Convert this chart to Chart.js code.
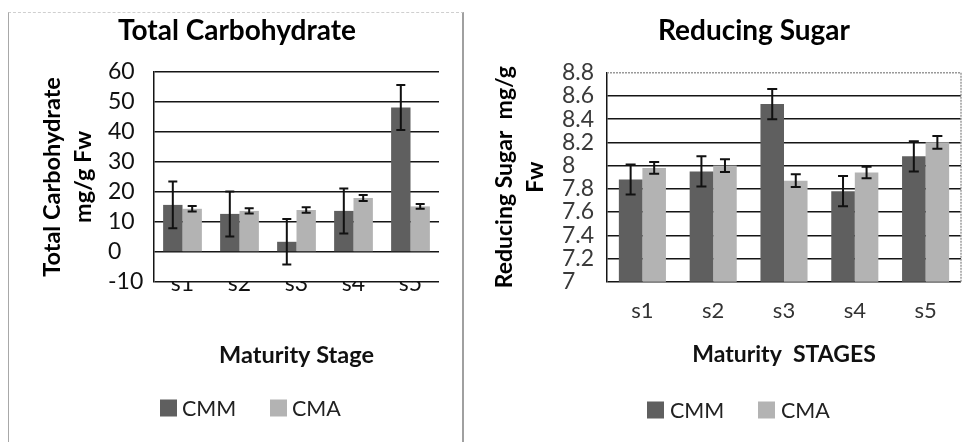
<!DOCTYPE html>
<html><head><meta charset="utf-8">
<script src="https://cdn.jsdelivr.net/npm/chart.js@4/dist/chart.umd.min.js"></script>
<style>
html,body{margin:0;padding:0;background:#fff;width:970px;height:442px;overflow:hidden}
#panelL{position:absolute;left:8px;top:12px;width:453px;height:440px;border-left:1px solid #a8a8a8;border-top:1px dashed #cfcfcf;border-right:2px solid #a0a0a0;}
#c1{position:absolute;left:0;top:0}
#c2{position:absolute;left:480px;top:0}
</style></head><body>
<div id="panelL"></div>
<canvas id="c1" width="480" height="442"></canvas>
<canvas id="c2" width="490" height="442"></canvas>
<script>
// ---- data ----
const stages = ['s1', 's2', 's3', 's4', 's5'];
const seriesNames = ['CMM', 'CMA'];

const tcCMM    = [15.7, 12.7, 3.4, 13.7, 48.2];
const tcCMMErr = [7.8, 7.5, 7.6, 7.5, 7.5];
const tcCMA    = [14.4, 13.7, 14.0, 18.0, 15.2];
const tcCMAErr = [0.9, 0.9, 0.9, 1.0, 0.8];
const tcTicks      = [-10, 0, 10, 20, 30, 40, 50, 60];
const tcTickLabels = ['-10', '0', '10', '20', '30', '40', '50', '60'];

const rsCMM    = [7.88, 7.95, 8.53, 7.78, 8.08];
const rsCMMErr = [0.13, 0.13, 0.13, 0.13, 0.13];
const rsCMA    = [7.98, 8.00, 7.87, 7.94, 8.20];
const rsCMAErr = [0.05, 0.055, 0.055, 0.05, 0.055];
const rsTicks      = [7, 7.2, 7.4, 7.6, 7.8, 8, 8.2, 8.4, 8.6, 8.8];
const rsTickLabels = ['7', '7.2', '7.4', '7.6', '7.8', '8', '8.2', '8.4', '8.6', '8.8'];

const colCMM = '#5f5f5f';
const colCMA = '#b3b3b3';
const FONT = 'Lato';

// ---- plugins ----
const errorBars = {
  id: 'errorBars',
  afterDatasetsDraw(chart, args, opts) {
    const ctx = chart.ctx, ys = chart.scales.y;
    ctx.save();
    ctx.strokeStyle = opts.color || '#111';
    ctx.lineWidth = opts.lineWidth || 2;
    chart.data.datasets.forEach((ds, i) => {
      const meta = chart.getDatasetMeta(i);
      meta.data.forEach((el, j) => {
        const v = ds.data[j], e = ds.errors[j];
        const y1 = ys.getPixelForValue(v + e), y2 = ys.getPixelForValue(v - e);
        const x = el.x, w = opts.cap || 5;
        ctx.beginPath();
        ctx.moveTo(x, y1); ctx.lineTo(x, y2);
        ctx.moveTo(x - w, y1); ctx.lineTo(x + w, y1);
        ctx.moveTo(x - w, y2); ctx.lineTo(x + w, y2);
        ctx.stroke();
      });
    });
    ctx.restore();
  }
};

const boxLegend = {
  id: 'boxLegend',
  afterDraw(chart, args, opts) {
    const ctx = chart.ctx;
    ctx.save();
    ctx.font = opts.size + 'px ' + FONT;
    ctx.textBaseline = 'middle';
    ctx.textAlign = 'left';
    chart.data.datasets.forEach((ds, i) => {
      const x = opts.x[i];
      ctx.fillStyle = ds.backgroundColor;
      ctx.fillRect(x, opts.y - opts.box / 2, opts.box, opts.box);
      ctx.fillStyle = opts.color;
      ctx.fillText(ds.label, x + opts.box + opts.gap, opts.y + 1);
    });
    ctx.restore();
  }
};

const plotFrame = {
  id: 'plotFrame',
  beforeDatasetsDraw(chart, args, opts) {
    if (!opts.show) return;
    const {left, right, top, bottom} = chart.chartArea;
    const ctx = chart.ctx;
    ctx.save();
    ctx.strokeStyle = '#9a9a9a';
    ctx.lineWidth = 1.5;
    ctx.setLineDash([2, 1]);
    ctx.beginPath();
    ctx.moveTo(left, top); ctx.lineTo(right, top); ctx.lineTo(right, bottom);
    ctx.stroke();
    ctx.restore();
  }
};

function makeChart(id, cfg) {
  return new Chart(document.getElementById(id), {
    type: 'bar',
    data: {
      labels: stages,
      datasets: [
        {label: seriesNames[0], data: cfg.a, errors: cfg.aErr, backgroundColor: colCMM,
         categoryPercentage: cfg.catPct, barPercentage: 1},
        {label: seriesNames[1], data: cfg.b, errors: cfg.bErr, backgroundColor: colCMA,
         categoryPercentage: cfg.catPct, barPercentage: 1}
      ]
    },
    options: {
      responsive: false,
      animation: false,
      layout: {padding: cfg.padding},
      plugins: {
        legend: {display: false},
        tooltip: {enabled: false},
        title: {
          display: true, text: cfg.title, color: '#000',
          font: {family: FONT, weight: 'bold', size: 28, lineHeight: 1.2},
          padding: {top: 14.2, bottom: cfg.titlePadBottom}
        },
        errorBars: {color: '#111', lineWidth: 2, cap: cfg.cap},
        boxLegend: cfg.legend,
        plotFrame: {show: cfg.frame}
      },
      scales: {
        x: {
          offset: true,
          grid: {display: false, drawTicks: false},
          border: {display: false},
          ticks: {font: {family: FONT, size: cfg.xTickSize}, color: cfg.xTickColor, padding: cfg.xTickPad, autoSkip: false, maxRotation: 0},
          afterFit: s => { s.height = 90; },
          title: {display: true, text: cfg.xTitle, color: '#111',
                  font: {family: FONT, weight: 'bold', size: cfg.xTitleSize, lineHeight: 1.2},
                  padding: {top: 0, bottom: cfg.xTitlePad}}
        },
        y: {
          min: cfg.min, max: cfg.max, weight: 0,
          afterBuildTicks: s => { s.ticks = cfg.ticks.map(v => ({value: v})); },
          afterFit: s => { s.width = cfg.yWidth; },
          ticks: {crossAlign: 'far', autoSkip: false, padding: 0,
                  font: {family: FONT, size: 23}, color: cfg.yTickColor,
                  callback: (v, i) => cfg.tickLabels[i]},
          grid: {drawTicks: false, lineWidth: 1.5,
                 color: c => (cfg.frame && c.tick && Math.abs(c.tick.value - cfg.max) < 1e-6) ? 'rgba(0,0,0,0)' : '#151515'},
          border: {color: '#151515', width: 1.5}
        },
        yt: {
          type: 'linear', position: 'left', weight: 5, display: true,
          afterFit: s => { s.width = cfg.ytWidth; },
          ticks: {display: false},
          grid: {display: false, drawTicks: false},
          border: {display: false},
          title: {display: true, text: cfg.yTitle, color: '#000',
                  font: {family: FONT, weight: 'bold', size: cfg.yTitleSize, lineHeight: 31 / cfg.yTitleSize},
                  padding: {top: cfg.yTitlePad, bottom: 0}}
        }
      }
    },
    plugins: [errorBars, boxLegend, plotFrame]
  });
}

makeChart('c1', {
  title: 'Total Carbohydrate',
  a: tcCMM, aErr: tcCMMErr, b: tcCMA, bErr: tcCMAErr,
  min: -10, max: 60, ticks: tcTicks, tickLabels: tcTickLabels,
  catPct: 0.68, cap: 4.5,
  padding: {left: 35, right: 41, top: 0, bottom: 70},
  titlePadBottom: 24.2,
  yWidth: 46, ytWidth: 73, yTitlePad: 1.5, yTitleSize: 23.5,
  yTitle: ['Total Carbohydrate', 'mg/g Fw'],
  xTitle: 'Maturity Stage', xTitleSize: 23.5, xTitlePad: 2.9,
  xTickSize: 23, xTickPad: -12,
  xTickColor: '#111', yTickColor: '#111',
  frame: false,
  legend: {x: [160, 270], y: 408, box: 17, gap: 5, size: 21.5, color: '#222'}
});

makeChart('c2', {
  title: 'Reducing Sugar',
  a: rsCMM, aErr: rsCMMErr, b: rsCMA, bErr: rsCMAErr,
  min: 7, max: 8.8, ticks: rsTicks, tickLabels: rsTickLabels,
  catPct: 0.665, cap: 5,
  padding: {left: 67, right: 9, top: 0, bottom: 70.3},
  titlePadBottom: 24.9,
  yWidth: 45, ytWidth: 15, yTitlePad: -57.5, yTitleSize: 23,
  yTitle: ['Reducing Sugar  mg/g', 'Fw'],
  xTitle: 'Maturity  STAGES', xTitleSize: 23, xTitlePad: 2.9,
  xTickSize: 22, xTickPad: 16,
  xTickColor: '#333', yTickColor: '#3a3a3a',
  frame: true,
  legend: {x: [167, 278], y: 410, box: 17, gap: 6, size: 21.5, color: '#222'}
});
</script>
</body></html>
